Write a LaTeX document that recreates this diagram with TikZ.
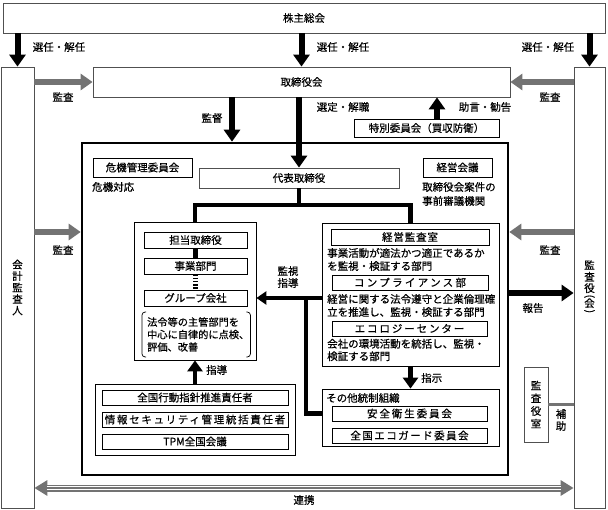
\documentclass[tikz,border=0pt]{standalone}
\usepackage{fontspec}
\usepackage{graphicx}
\setmainfont{Noto Sans CJK JP}[FakeBold=0.6]
\usetikzlibrary{arrows.meta}
\definecolor{arrgray}{RGB}{115,115,115}
\definecolor{linegray}{RGB}{80,80,80}
\tikzset{
	box/.style={draw=black, line width=0.8pt, inner sep=0pt},
	obox/.style={draw=linegray, line width=0.8pt, inner sep=0pt},
	lbl/.style={inner sep=0pt},
	bigarr/.style={line width=6pt, -{Triangle[length=12pt,width=16pt]}},
	grayarr/.style={arrgray, line width=6pt, -{Triangle[length=12pt,width=16pt]}},
	thk/.style={line width=4.5pt},
	thkarr/.style={line width=4.5pt, -{Triangle[length=10pt,width=13pt]}},
	midarr/.style={line width=4.5pt, -{Triangle[length=11pt,width=15pt]}},
	spaced/.style={font=\fontsize{10.5}{12}\selectfont\addfontfeature{LetterSpace=#1}}
}
\begin{document}
\begin{tikzpicture}[x=1pt,y=-1pt,font=\fontsize{10.5}{12}\selectfont]
	\useasboundingbox (0,0) rectangle (608,510);

	\coordinate (kt) at (232,120);
	\coordinate (jg) at (437,110);
	\coordinate (ka) at (0,232);
	\coordinate (hk) at (0,293);
	\coordinate (br) at (299,205);
	\coordinate (ks) at (306,298);
	\coordinate (rk) at (0,488);

	\node[obox, minimum width=602, minimum height=30] (soukai) at (304,18) {株主総会};
	\node[obox, minimum width=417, minimum height=30] (torikai) at (301.5,82) {取締役会};
	\node[obox, minimum width=33, minimum height=441, align=center,
		font=\fontsize{10.5}{11.5}\selectfont] (kaikei) at (17.5,287.5) {会\\計\\監\\査\\人};
	\node[obox, minimum width=31, minimum height=441, align=center,
		font=\fontsize{10.5}{11.5}\selectfont] (kansayaku) at (589.5,287.5)
		{監\\査\\役\\[-4pt]\rotatebox[origin=c]{-90}{(}\\[-4pt]会\\[-4pt]\rotatebox[origin=c]{-90}{)}};
	\node[draw, line width=2.6pt, inner sep=0pt, minimum width=426, minimum height=332] (naibu) at (295,309) {};

	\node[box, minimum width=145, minimum height=18] (tokubetsu) at (426.5,128) {特別委員会（買収防衛）};
	\node[box, minimum width=99, minimum height=19] (kiki) at (142.5,167.5) {危機管理委員会};
	\node[box, minimum width=69, minimum height=19] (keieikaigi) at (457.5,167.5) {経営会議};
	\node[obox, minimum width=200, minimum height=20] (daihyo) at (299,178) {代表取締役};

	% left side
	\node[box, minimum width=122, minimum height=138] (hidari) at (195,291) {};
	\node[box, minimum width=103, minimum height=16] (tantou) at (195.5,240) {担当取締役};
	\node[box, minimum width=103, minimum height=16] (jigyou) at (195.5,266) {事業部門};
	\node[box, minimum width=103, minimum height=16] (group) at (195.5,298) {グループ会社};
	\node[lbl, anchor=west, align=left, font=\fontsize{10.2}{12.5}\selectfont] (hourei) at (147,334.5)
		{法令等の主管部門を\\中心に自律的に点検、\\評価、改善};

	\node[box, minimum width=200, minimum height=71] (shidou) at (195,419.5) {};
	\node[box, minimum width=186, minimum height=15] (zenkoku) at (195,397.5) {全国行動指針推進責任者};
	\node[box, minimum width=186, minimum height=15, spaced=16] (jouhou) at (195,419.5) {情報セキュリティ管理統括責任者};
	\node[box, minimum width=186, minimum height=15] (tpm) at (195,441.5) {TPM全国会議};

	% right side
	\node[box, minimum width=177, minimum height=143] (migi) at (410.5,294.5) {};
	\node[box, minimum width=158, minimum height=16, spaced=8] (kansashitsu) at (410,237) {経営監査室};
	\node[lbl, anchor=west, align=left, font=\fontsize{10.5}{13}\selectfont] (kansatxt) at (327,259.5)
		{事業活動が適法かつ適正であるか\\を監視・検証する部門};
	\node[box, minimum width=156, minimum height=15, spaced=22] (compli) at (410,282.5) {コンプライアンス部};
	\node[lbl, anchor=west, align=left, font=\fontsize{10.5}{13}\selectfont] (complitxt) at (327,305.5)
		{経営に関する法令遵守と企業倫理確\\立を推進し、監視・検証する部門};
	\node[box, minimum width=155, minimum height=15, spaced=18] (ecology) at (409.5,328.5) {エコロジーセンター};
	\node[lbl, anchor=west, align=left, font=\fontsize{10.5}{12.5}\selectfont] (ecotxt) at (327,350)
		{会社の環境活動を統括し、監視・\\検証する部門};

	\node[box, minimum width=177, minimum height=57] (sonota) at (410.5,417.5) {};
	\node[lbl, anchor=west] (sonotatxt) at (326,398) {その他統制組織};
	\node[box, minimum width=155, minimum height=15, spaced=18] (anzen) at (409.5,413.5) {安全衛生委員会};
	\node[box, minimum width=155, minimum height=15, spaced=14] (ecoguard) at (409.5,435.5) {全国エコガード委員会};

	\node[obox, minimum width=24, minimum height=75, align=center,
		font=\fontsize{10.5}{12.7}\selectfont] (kanshitsu) at (536,404.5) {監\\査\\役\\室};

	% labels
	\node[lbl] (senninA) at (59,47) {選任・解任};
	\node[lbl] (senninB) at (343,47) {選任・解任};
	\node[lbl] (senninC) at (548,47) {選任・解任};
	\node[lbl] (kansaA) at (63,97) {監査};
	\node[lbl] (kansaB) at (550,97) {監査};
	\node[lbl] (kantoku) at (212,118) {監督};
	\node[lbl] (sentei) at (343,107) {選定・解職};
	\node[lbl] (jogen) at (485,107) {助言・勧告};
	\node[lbl, anchor=west] (kikitxt) at (92,187) {危機対応};
	\node[lbl, anchor=west, align=left, font=\fontsize{10.5}{14}\selectfont] (keieitxt) at (422,194)
		{取締役会案件の\\事前審議機関};
	\node[lbl] (kansaC) at (63,250) {監査};
	\node[lbl] (kansaD) at (550,250) {監査};
	\node[lbl] (houkoku) at (533,308) {報告};
	\node[lbl, align=center] (kanshi) at (288,277) {監視\\指導};
	\node[lbl, anchor=west] (shidoutxt) at (206,370) {指導};
	\node[lbl, anchor=west] (shijitxt) at (421,378) {指示};
	\node[lbl, align=center] (hojo) at (561,420) {補\\助};
	\node[lbl] (renkei) at (304,500) {連携};

	% arrows
	\draw[bigarr] (soukai.south -| kaikei.north) -- (kaikei.north);
	\draw[bigarr] (soukai.south -| torikai.north) -- (torikai.north);
	\draw[bigarr] (soukai.south -| kansayaku.north) -- (kansayaku.north);
	\draw[grayarr] (kaikei.east |- torikai.west) -- (torikai.west);
	\draw[grayarr] (kansayaku.west |- torikai.east) -- (torikai.east);
	\draw[bigarr] (torikai.south -| kt) -- (naibu.north -| kt);
	\draw[bigarr] (torikai.south -| daihyo.north) -- (daihyo.north);
	\draw[bigarr] (tokubetsu.north -| jg) -- (torikai.south -| jg);
	\draw[grayarr] (kaikei.east |- ka) -- (naibu.west |- ka);
	\draw[grayarr] (kansayaku.west |- ka) -- (naibu.east |- ka);
	\draw[bigarr] (naibu.east |- hk) -- (kansayaku.west |- hk);

	\draw[thk] (daihyo.south) -- (br);
	\draw[thk] (hidari.north) |- (br) -| (migi.north);
	\draw[thk] (tantou.south) -- (jigyou.north);
	\draw[thk, dash pattern=on 1.6pt off 1.6pt] (jigyou.south) -- (group.north);
	\draw[thkarr] (migi.west |- group) -- (hidari.east |- group);
	\draw[thk] (sonota.west |- anzen) -| (ks);
	\draw[midarr] (shidou.north) -- (hidari.south);
	\draw[midarr] (migi.south) -- (sonota.north);

	\draw[line width=0.7pt, rounded corners=3pt] ([shift={(-1,-5)}]hourei.north west) -- ([shift={(-5,-5)}]hourei.north west)
		-- ([shift={(-5,5)}]hourei.south west) -- ([shift={(-1,5)}]hourei.south west);
	\draw[line width=0.7pt, rounded corners=3pt] ([shift={(-1,-5)}]hourei.north -| tantou.east) -- ([shift={(3,-5)}]hourei.north -| tantou.east)
		-- ([shift={(3,5)}]hourei.south -| tantou.east) -- ([shift={(-1,5)}]hourei.south -| tantou.east);

	\draw[arrgray, line width=3pt] (kanshitsu.east) -- (kanshitsu.east -| kansayaku.west);

	\draw[arrgray, line width=7pt, {Triangle[length=13pt,width=15pt]}-{Triangle[length=13pt,width=15pt]}] (kaikei.east |- rk) -- (kansayaku.west |- rk);
	\draw[white, line width=4.4pt, shorten <=13pt, shorten >=13pt] (kaikei.east |- rk) -- (kansayaku.west |- rk);
	\draw[arrgray, line width=1.6pt, shorten <=13pt, shorten >=13pt] (kaikei.east |- rk) -- (kansayaku.west |- rk);

\end{tikzpicture}
\end{document}
